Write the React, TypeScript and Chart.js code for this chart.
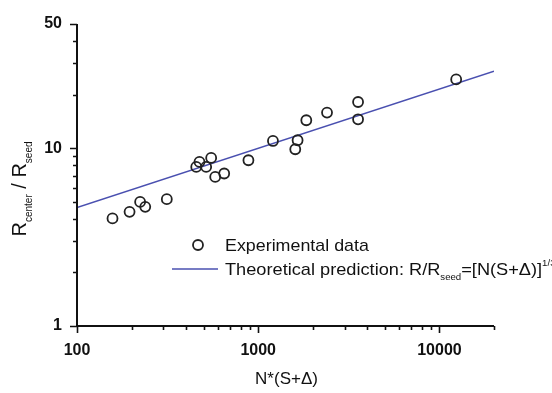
import React, { useEffect, useRef } from "react";
import { Chart, registerables } from "chart.js";

Chart.register(...registerables);

const expX = [157, 195, 223, 238, 313, 455, 474, 516, 550, 579, 649, 883, 1206, 1601, 1649, 1842, 2397, 3556, 3556, 12370];
const expY = [4.03, 4.39, 4.99, 4.68, 5.17, 7.85, 8.38, 7.85, 8.82, 6.9, 7.21, 8.56, 10.99, 9.87, 11.09, 14.37, 15.87, 18.2, 14.55, 24.4];

// Theoretical prediction line endpoints
const lineX = [100, 20000];
const lineY = [4.64, 27.14];

// Axis ranges and tick labels
const xMin = 100;
const xMax = 20000;
const yMin = 1;
const yMax = 50;
const xMajor = [100, 1000, 10000];
const xMinor = [200, 300, 400, 500, 600, 700, 800, 900, 2000, 3000, 4000, 5000, 6000, 7000, 8000, 9000, 20000];
const yMajor = [1, 10, 50];
const yMinor = [2, 3, 4, 5, 6, 7, 8, 9, 20, 30, 40];

const FONT = '"Liberation Sans", Arial, sans-serif';

type Part = { t: string; size: number; dy: number; bold?: boolean };

function drawParts(ctx: CanvasRenderingContext2D, parts: Part[], x: number, y: number, align: "left" | "center", sx = 1) {
  ctx.save();
  ctx.textBaseline = "alphabetic";
  ctx.textAlign = "left";
  let total = 0;
  const widths: number[] = [];
  for (const p of parts) {
    ctx.font = `${p.bold ? "bold " : ""}${p.size}px ${FONT}`;
    const w = ctx.measureText(p.t).width;
    widths.push(w);
    total += w;
  }
  ctx.translate(x, y);
  ctx.scale(sx, 1);
  let cx = align === "center" ? -total / 2 : 0;
  parts.forEach((p, i) => {
    ctx.font = `${p.bold ? "bold " : ""}${p.size}px ${FONT}`;
    ctx.fillText(p.t, cx, p.dy);
    cx += widths[i];
  });
  ctx.restore();
}

const decorPlugin = {
  id: "decor",
  afterDraw(chart: any) {
    const ctx: CanvasRenderingContext2D = chart.ctx;
    const xs = chart.scales.x;
    const ys = chart.scales.y;
    const { left, right, top, bottom } = chart.chartArea;
    ctx.save();
    ctx.strokeStyle = "#111";
    ctx.fillStyle = "#111";
    ctx.lineWidth = 2;
    ctx.beginPath();
    ctx.moveTo(left, top);
    ctx.lineTo(left, bottom);
    ctx.lineTo(right, bottom);
    ctx.stroke();

    ctx.lineWidth = 1.6;
    ctx.beginPath();
    for (const v of yMajor) {
      const py = Math.round(ys.getPixelForValue(v)) + 0.5;
      ctx.moveTo(left, py);
      ctx.lineTo(left - 7, py);
    }
    for (const v of yMinor) {
      const py = Math.round(ys.getPixelForValue(v)) + 0.5;
      ctx.moveTo(left, py);
      ctx.lineTo(left - 4, py);
    }
    for (const v of xMajor) {
      const px = Math.round(xs.getPixelForValue(v)) + 0.5;
      ctx.moveTo(px, bottom);
      ctx.lineTo(px, bottom + 7);
    }
    for (const v of xMinor) {
      const px = Math.round(xs.getPixelForValue(v)) + 0.5;
      ctx.moveTo(px, bottom);
      ctx.lineTo(px, bottom + 4);
    }
    ctx.stroke();

    // tick labels
    ctx.font = `bold 16px ${FONT}`;
    ctx.textBaseline = "middle";
    ctx.textAlign = "right";
    for (const v of yMajor) {
      const py = ys.getPixelForValue(v);
      ctx.fillText(String(v), left - 15, py);
    }
    ctx.textAlign = "center";
    for (const v of xMajor) {
      const px = xs.getPixelForValue(v);
      ctx.fillText(String(v), px, bottom + 25);
    }

    // x title
    drawParts(ctx, [{ t: "N*(S+Δ)", size: 17, dy: 0 }], (left + right) / 2 + 1, 384, "center");

    // y title (rotated)
    ctx.save();
    ctx.translate(26, 189);
    ctx.rotate(-Math.PI / 2);
    drawParts(
      ctx,
      [
        { t: "R", size: 20, dy: 0 },
        { t: "center", size: 10, dy: 6 },
        { t: " / R", size: 20, dy: 0 },
        { t: "seed", size: 10, dy: 6 },
      ],
      0,
      0,
      "center",
      1
    );
    ctx.restore();

    // legend
    ctx.lineWidth = 1.8;
    ctx.strokeStyle = "#222";
    ctx.beginPath();
    ctx.arc(198, 245, 5, 0, Math.PI * 2);
    ctx.stroke();
    drawParts(ctx, [{ t: "Experimental data", size: 17, dy: 0 }], 225, 251, "left", 1.05);

    ctx.strokeStyle = "#4a50b0";
    ctx.lineWidth = 1.6;
    ctx.beginPath();
    ctx.moveTo(172, 269);
    ctx.lineTo(218, 269);
    ctx.stroke();
    ctx.fillStyle = "#111";
    drawParts(
      ctx,
      [
        { t: "Theoretical prediction: R/R", size: 17, dy: 0 },
        { t: "seed", size: 9, dy: 5 },
        { t: "=[N(S+Δ)]", size: 17, dy: 0 },
        { t: "1/3", size: 9, dy: -9 },
      ],
      225,
      275,
      "left",
      1.07
    );
    ctx.restore();
  },
};

export default function App() {
  const ref = useRef<HTMLCanvasElement | null>(null);
  useEffect(() => {
    if (!ref.current) return;
    const chart = new Chart(ref.current, {
      type: "scatter",
      data: {
        datasets: [
          {
            type: "line",
            label: "Theoretical prediction",
            data: lineX.map((x, i) => ({ x, y: lineY[i] })),
            borderColor: "#4a50b0",
            borderWidth: 1.6,
            pointRadius: 0,
            fill: false,
            order: 2,
          } as any,
          {
            label: "Experimental data",
            data: expX.map((x, i) => ({ x, y: expY[i] })),
            pointStyle: "circle",
            pointRadius: 5,
            pointBackgroundColor: "rgba(0,0,0,0)",
            pointBorderColor: "#222",
            pointBorderWidth: 1.8,
            order: 1,
          },
        ],
      },
      options: {
        animation: false,
        responsive: false,
        maintainAspectRatio: false,
        layout: { padding: { left: 77, right: 58, top: 24, bottom: 67 } },
        plugins: { legend: { display: false }, tooltip: { enabled: false } },
        scales: {
          x: { type: "logarithmic", min: xMin, max: xMax, display: false },
          y: { type: "logarithmic", min: yMin, max: yMax, display: false },
        },
      },
      plugins: [decorPlugin],
    });
    return () => chart.destroy();
  }, []);
  return (
    <div style={{ position: "fixed", left: 0, top: 0, width: 552, height: 393, background: "#fff" }}>
      <canvas ref={ref} width={552} height={393} style={{ width: 552, height: 393 }} />
    </div>
  );
}
